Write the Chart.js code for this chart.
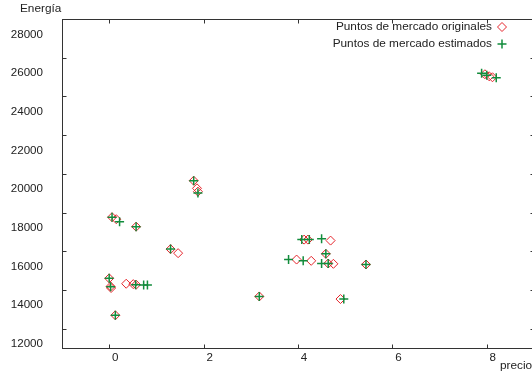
<!DOCTYPE html>
<html>
<head>
<meta charset="utf-8">
<script src="https://cdn.jsdelivr.net/npm/chart.js@4.4.0/dist/chart.umd.min.js"></script>
<style>
  html, body { margin: 0; padding: 0; background: #fff; overflow: hidden; }
  #wrap { width: 540px; height: 373px; }
</style>
</head>
<body>
<div id="wrap"><canvas id="chart" width="540" height="373"></canvas></div>
<script>
// data
const origPrice = [0.0, 0.03, 0.04, 0.13, 0.36, 0.51, 0.57, 0.06, 0.15, 0.57, 1.30, 1.46, 1.79, 1.86, 1.88,
  3.18, 3.97, 4.13, 4.21, 4.28, 4.59, 4.69, 4.64, 4.75, 5.44, 4.90, 7.96, 8.05, 8.12];
const origEnergy = [15600, 15180, 15100, 13690, 15320, 15300, 15270, 18760, 18655, 18270, 17110, 16900, 20645, 20250, 20080,
  14665, 16570, 17600, 17600, 16505, 16866, 17550, 16366, 16350, 16315, 14530, 26145, 26040, 25990];
const estPrice = [0.0, 0.03, 0.13, 0.73, 0.81, 0.56, 0.06, 0.22, 0.57, 1.30, 1.79, 1.88, 3.18, 3.80, 4.08,
  4.24, 4.11, 4.50, 4.59, 4.50, 4.64, 5.44, 4.97, 7.89, 8.00, 8.20];
const estEnergy = [15600, 15160, 13690, 15250, 15250, 15270, 18760, 18530, 18270, 17110, 20645, 20010, 14665, 16570, 17600,
  17600, 16505, 17640, 16866, 16366, 16366, 16315, 14530, 26200, 26095, 25960];

const xTickValues = [0, 2, 4, 6, 8];
const yTickLabels = [12000, 14000, 16000, 18000, 20000, 22000, 24000, 26000, 28000];
const yTickMarks = [13000, 15000, 17000, 19000, 21000, 23000, 25000, 27000];

const RED = "#e5242b";
const GREEN = "#128c3c";
const FONT = "'Liberation Sans', Arial, sans-serif";

const toPoints = (xs, ys) => xs.map((x, i) => ({ x: x, y: ys[i] }));

// gnuplot style frame, inward ticks, labels and legend
const framePlugin = {
  id: "frame",
  afterDraw(chart) {
    const { ctx, chartArea: a, scales } = chart;
    const L = Math.round(a.left) + 0.5, R = Math.round(a.right) + 0.5;
    const T = Math.round(a.top) + 0.5, B = Math.round(a.bottom) + 0.5;
    ctx.save();
    ctx.strokeStyle = "#333";
    ctx.lineWidth = 1;
    ctx.strokeRect(L, T, R - L, B - T);
    ctx.beginPath();
    xTickValues.forEach(v => {
      const px = Math.round(scales.x.getPixelForValue(v)) + 0.5;
      ctx.moveTo(px, B); ctx.lineTo(px, B - 4);
      ctx.moveTo(px, T); ctx.lineTo(px, T + 4);
    });
    yTickMarks.forEach(v => {
      const py = Math.round(scales.y.getPixelForValue(v)) + 0.5;
      ctx.moveTo(L, py); ctx.lineTo(L + 4, py);
      ctx.moveTo(R, py); ctx.lineTo(R - 4, py);
    });
    ctx.stroke();

    ctx.fillStyle = "#222";
    ctx.font = "11.8px " + FONT;
    ctx.textBaseline = "middle";
    ctx.textAlign = "left";
    ctx.fillText("Energía", 20, 9);
    ctx.fillText("precio", 500, 366);

    // legend: text then marker, right side
    const items = [
      { text: "Puntos de mercado originales", style: "rectRot", color: RED, y: 27 },
      { text: "Puntos de mercado estimados", style: "cross", color: GREEN, y: 44 }
    ];
    items.forEach(it => {
      ctx.fillStyle = "#222";
      ctx.textAlign = "right";
      ctx.fillText(it.text, 492, it.y);
      ctx.fillStyle = "rgba(0,0,0,0)";
      ctx.strokeStyle = it.color;
      ctx.lineWidth = it.style === "cross" ? 1.5 : 1;
      Chart.helpers.drawPoint(ctx, { pointStyle: it.style, radius: 4.5, rotation: 0, borderWidth: ctx.lineWidth }, 502, it.y);
    });
    ctx.restore();
  }
};

const noPad = s => { s.paddingTop = 0; s.paddingBottom = 0; s.paddingLeft = 0; s.paddingRight = 0; };

new Chart(document.getElementById("chart"), {
  type: "scatter",
  data: {
    datasets: [
      {
        label: "Puntos de mercado originales",
        data: toPoints(origPrice, origEnergy),
        pointStyle: "rectRot",
        pointRadius: 4.5,
        borderColor: RED,
        backgroundColor: "rgba(0,0,0,0)",
        borderWidth: 1,
        order: 2
      },
      {
        label: "Puntos de mercado estimados",
        data: toPoints(estPrice, estEnergy),
        pointStyle: "cross",
        pointRadius: 4.5,
        borderColor: GREEN,
        backgroundColor: GREEN,
        borderWidth: 1.5,
        order: 1
      }
    ]
  },
  options: {
    responsive: false,
    animation: false,
    devicePixelRatio: 1,
    layout: { padding: { top: 19, right: 6, left: 0, bottom: 0 } },
    plugins: {
      legend: { display: false },
      tooltip: { enabled: false }
    },
    scales: {
      x: {
        type: "linear",
        min: -1,
        max: 9,
        grid: { display: false, drawTicks: false },
        border: { display: false },
        afterBuildTicks: s => { s.ticks = xTickValues.map(v => ({ value: v })); },
        afterFit: s => { s.height = 25; noPad(s); },
        ticks: {
          color: "#222",
          font: { family: FONT, size: 11.6 },
          padding: 3,
          labelOffset: 6,
          maxRotation: 0,
          callback: v => String(v)
        }
      },
      y: {
        type: "linear",
        min: 12000,
        max: 29000,
        grid: { display: false, drawTicks: false },
        border: { display: false },
        afterBuildTicks: s => { s.ticks = yTickLabels.map(v => ({ value: v })); },
        afterFit: s => { s.width = 62; noPad(s); },
        ticks: {
          color: "#222",
          font: { family: FONT, size: 11.6 },
          padding: 19,
          labelOffset: -4,
          callback: v => String(v)
        }
      }
    }
  },
  plugins: [framePlugin]
});
</script>
</body>
</html>
